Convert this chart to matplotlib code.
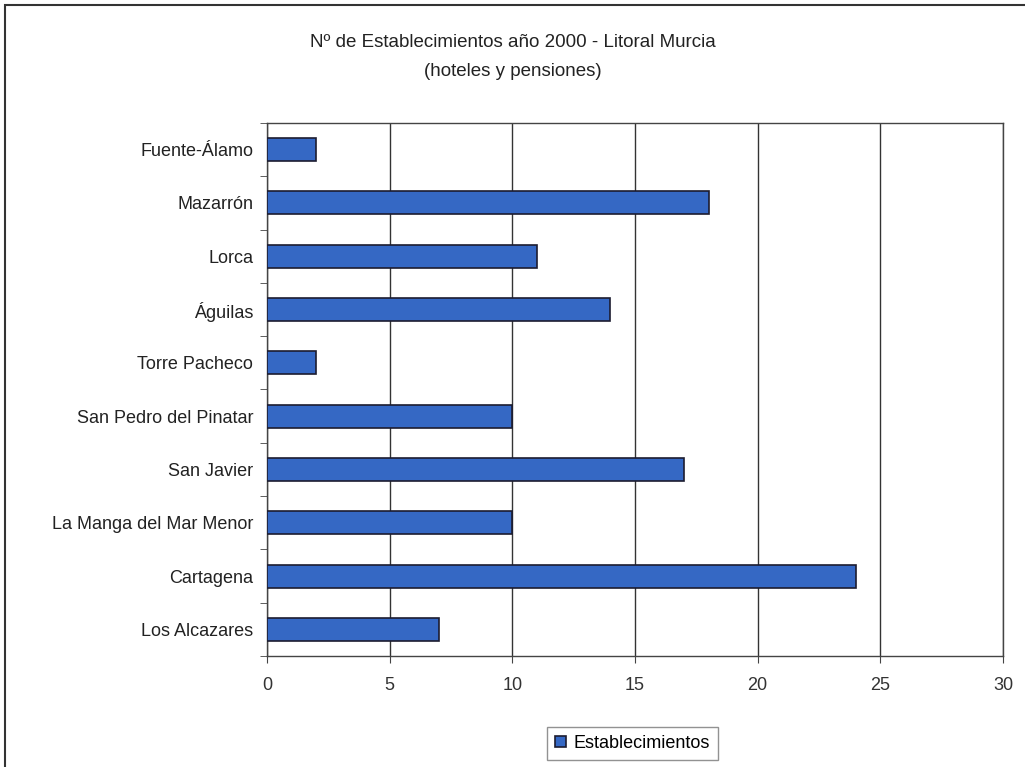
import matplotlib
matplotlib.use("Agg")
import matplotlib.pyplot as plt
from matplotlib.patches import Rectangle
from matplotlib.ticker import MultipleLocator

categories = ["Fuente-Álamo", "Mazarrón", "Lorca", "Águilas", "Torre Pacheco",
              "San Pedro del Pinatar", "San Javier", "La Manga del Mar Menor",
              "Cartagena", "Los Alcazares"]
values = [2, 18, 11, 14, 2, 10, 17, 10, 24, 7]
series_name = "Establecimientos"
title = "Nº de Establecimientos año 2000 - Litoral Murcia\n(hoteles y pensiones)"

plt.rcParams['font.family'] = ['Liberation Sans', 'DejaVu Sans']

fig = plt.figure(figsize=(10.25, 7.67), dpi=100)
ax = fig.add_axes([0.2605, 0.1447, 0.718, 0.695])

n = len(categories)
ypos = list(range(n))
ax.barh(ypos, values, height=0.43, color="#3568c4", edgecolor="#1c1c30",
        linewidth=1.2, label=series_name, zorder=3)
ax.set_ylim(n - 0.5, -0.5)
ax.set_xlim(0, 30)
ax.xaxis.set_major_locator(MultipleLocator(5))
ax.set_yticks(ypos)
ax.set_yticklabels(categories, fontsize=13, color="#222222")
ax.set_yticks([i + 0.5 for i in range(-1, n)], minor=True)
ax.tick_params(axis='y', which='major', length=0, pad=10)
ax.tick_params(axis='y', which='minor', length=5, color="#444444")
ax.tick_params(axis='x', length=5, labelsize=13, labelcolor="#333333", pad=10, color="#444444")
ax.grid(axis='x', color="#333333", linewidth=1.0, zorder=0)
for s in ax.spines.values():
    s.set_color("#444444")
    s.set_linewidth(1.0)

fig.text(0.5, 0.926, title, ha='center', va='center', fontsize=13.5,
         color="#222222", linespacing=1.95)

leg = fig.legend(loc='center', bbox_to_anchor=(0.617, 0.031), fontsize=13,
                 frameon=True, fancybox=False, edgecolor="#777777",
                 handlelength=0.6, handleheight=0.6, handletextpad=0.4,
                 borderpad=0.45)

fig.patches.append(Rectangle((0.005, -0.05), 1.1, 1.043, transform=fig.transFigure,
                             fill=False, edgecolor="#333333", linewidth=1.5))

fig.savefig("out.png", dpi=100)
